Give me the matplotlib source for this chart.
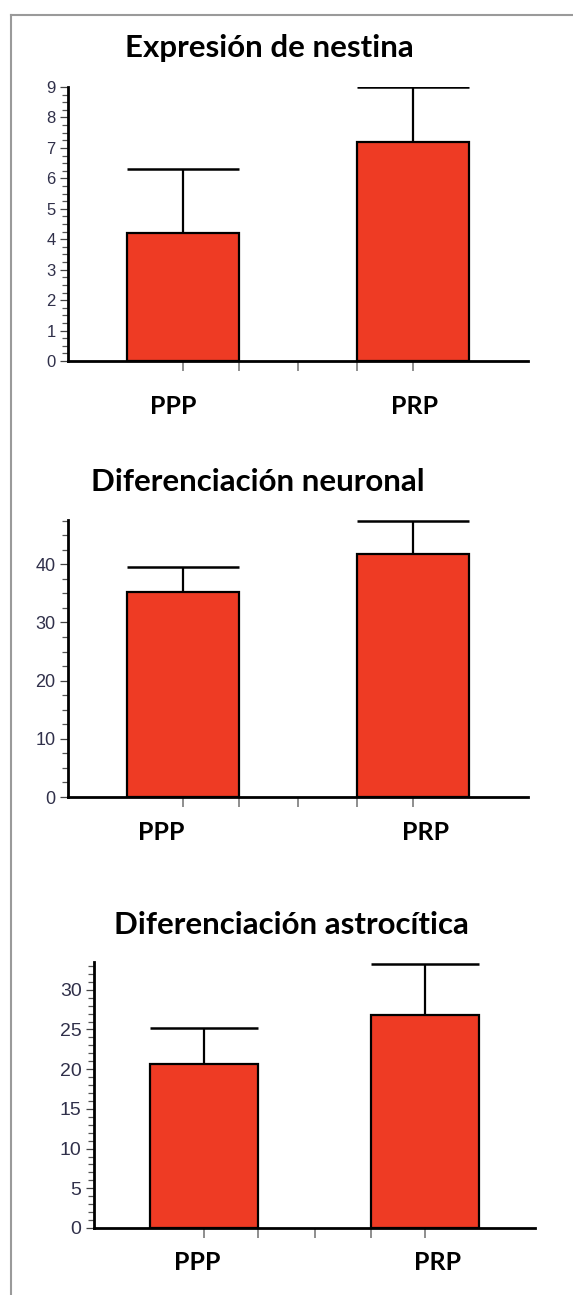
import numpy as np
import matplotlib
matplotlib.use("Agg")
import matplotlib.pyplot as plt
from matplotlib.lines import Line2D
from matplotlib.ticker import MultipleLocator, FixedLocator

# data
categories = ["PPP", "PRP"]
titles = ["Expresión de nestina", "Diferenciación neuronal", "Diferenciación astrocítica"]
nestina_mean = [4.2, 7.2]
nestina_err = [2.1, 1.8]
neuronal_mean = [35.2, 41.7]
neuronal_err = [4.3, 5.7]
astro_mean = [20.7, 26.8]
astro_err = [4.5, 6.4]

y_max = [9, 47.6, 33.5]
y_step = [1, 10, 5]
y_minor = [0.25, 2.5, 1]

W, H = 573, 1295
BAR_COLOR = "#ee3b24"
TICK_COLOR = "#30304a"

# axes boxes in pixels: left, top, right, bottom
boxes = [(68, 87, 528, 361), (68, 520, 528, 797), (94, 962, 535, 1228)]
title_pos = [(269, 48), (258, 482), (291, 925)]
label_pos = [[(173, 407), (415, 407)], [(161, 833), (426, 833)], [(197, 1262), (438, 1262)]]
tick_size = [12, 13, 14]

fig = plt.figure(figsize=(W / 100, H / 100), dpi=100)

# gray frame (only top and left edges visible)
fig.add_artist(Line2D([11 / W, 1], [1 - 15 / H] * 2, color="#9a9a9a", lw=1.5))
fig.add_artist(Line2D([11 / W] * 2, [1 - 15 / H, 0], color="#9a9a9a", lw=1.5))

series = [(nestina_mean, nestina_err), (neuronal_mean, neuronal_err), (astro_mean, astro_err)]
width = 0.49

for i, (means, errs) in enumerate(series):
    l, t, r, b = boxes[i]
    ax = fig.add_axes([l / W, 1 - b / H, (r - l) / W, (b - t) / H])
    x = np.arange(len(categories))
    means = np.array(means)
    tops = means + np.array(errs)

    ax.vlines(x, means, tops, color="black", lw=1.6, zorder=1)
    ax.hlines(tops, x - width / 2, x + width / 2, color="black", lw=1.8, zorder=1)
    ax.bar(x, means, width=width, color=BAR_COLOR, edgecolor="black", lw=1.6, zorder=2)

    ax.set_xlim(-0.5, 1.5)
    ax.set_ylim(0, y_max[i])
    for s in ["top", "right"]:
        ax.spines[s].set_visible(False)
    for s in ["left", "bottom"]:
        ax.spines[s].set_linewidth(2)
    ax.spines["bottom"].set_zorder(3)

    ax.yaxis.set_major_locator(MultipleLocator(y_step[i]))
    ax.yaxis.set_minor_locator(MultipleLocator(y_minor[i]))
    ax.tick_params(axis="y", which="major", length=6, width=0.9, color="#444444",
                   labelsize=tick_size[i], labelcolor=TICK_COLOR, pad=3)
    ax.tick_params(axis="y", which="minor", length=4, width=0.9, color="#555555")
    for lab in ax.get_yticklabels():
        lab.set_family("Liberation Sans")

    ax.xaxis.set_major_locator(FixedLocator(x))
    ax.xaxis.set_minor_locator(FixedLocator([width / 2, 0.5, 1 - width / 2]))
    ax.tick_params(axis="x", which="both", length=7, width=1.1, color="#707070", labelbottom=False)

    tx, ty = title_pos[i]
    fig.text(tx / W, 1 - ty / H, titles[i], ha="center", va="center",
             fontsize=22.5, fontweight="bold", family="Lato")
    for cat, (cx, cy) in zip(categories, label_pos[i]):
        fig.text(cx / W, 1 - cy / H, cat, ha="center", va="center",
                 fontsize=18, fontweight="bold", family="Lato")

fig.savefig("out.png", dpi=100)
